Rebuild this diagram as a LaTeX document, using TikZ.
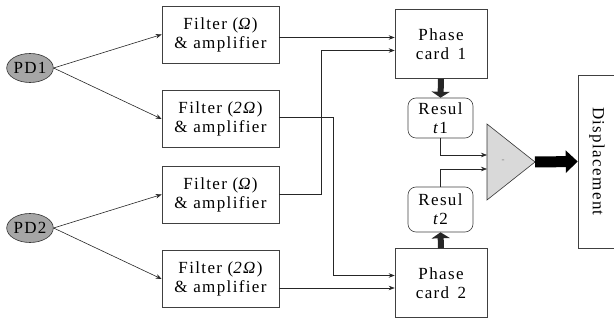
\documentclass[tikz,border=0pt]{standalone}
\usepackage{fontspec}
\setmainfont{Liberation Serif}[LetterSpace=8]
\usetikzlibrary{arrows.meta,shapes.geometric}
\begin{document}
\begin{tikzpicture}[x=1pt,y=-1pt,line width=0.6pt,
  every node/.style={font=\fontsize{17}{19}\selectfont,align=center,inner sep=0pt},
  sig/.style={-{Stealth[length=6pt,width=4.5pt]},black!85},
  fat/.style={line width=6pt,black!85,-{Triangle[length=6pt,width=18pt]}},
  fbox/.style={draw=black!75,minimum width=117pt,minimum height=57pt},
  cbox/.style={draw=black!75,minimum width=92pt,minimum height=69pt},
  rbox/.style={draw=black!75,rounded corners=8pt,minimum width=65pt},
  pd/.style={ellipse,draw=black!80,fill=gray!70,minimum width=46pt,minimum height=29pt}]
  \useasboundingbox (0,0) rectangle (614,320);
  \foreach \n/\y in {1/68,2/228} \node[pd] (pd\n) at (30,\y) {PD\n};
  \foreach \n/\y/\w in {f1/34.5/Ω, f2/119/2Ω, f3/194.5/Ω, f4/279/2Ω}
    \node[fbox] (\n) at (220.5,\y) {Filter (\textit{\w})\\ \& amplifier};
  \node[cbox] (card1) at (441,44) {Phase\\ card\, 1};
  \node[cbox] (card2) at (441,283) {Phase\\ card\, 2};
  \node[rbox,minimum height=40pt] (res1) at (440.5,118) {Resul\\ \textit{t}1};
  \node[rbox,minimum height=45pt] (res2) at (440.5,209.5) {Resul\\ \textit{t}2};
  \draw[black!80,fill=gray!30] (487,124) -- (535,162) coordinate (sum) -- (487,200) -- cycle;
  \coordinate (sumin) at (487,162);
  \node[gray,font=\small] (minus) at (503,161) {-};
  \node[draw=black!75,minimum width=38pt,minimum height=173pt] (disp) at (597,161.5) {\rotatebox{-90}{Displacement}};
  \foreach \p/\a/\b in {pd1/f1/f2, pd2/f3/f4} {
    \draw[sig] (\p.east) -- (\a.west);
    \draw[sig] (\p.east) -- (\b.west);
  }
  \draw[sig] ([yshift=-3pt]f1.east) -- ([yshift=-3pt]f1.east -| card1.west);
  \draw[sig] (f3.east) -- ++(42,0) |- ([yshift=-6.5pt]card1.west);
  \draw[sig] ([yshift=2pt]f2.east) -- ++(54,0) |- ([yshift=7.5pt]card2.west);
  \draw[sig] ([yshift=-9pt]f4.east) -- ([yshift=-9pt]f4.east -| card2.west);
  \draw[fat] (card1.south) -- (res1.north);
  \draw[fat] (card2.north) -- (res2.south);
  \draw[sig] (res1.south) |- ([yshift=7pt]sumin);
  \draw[sig] (res2.north) |- ([yshift=-7pt]sumin);
  \draw[line width=11pt,-{Triangle[length=12pt,width=22pt]}] (sum) -- (disp.west);
\end{tikzpicture}
\end{document}
